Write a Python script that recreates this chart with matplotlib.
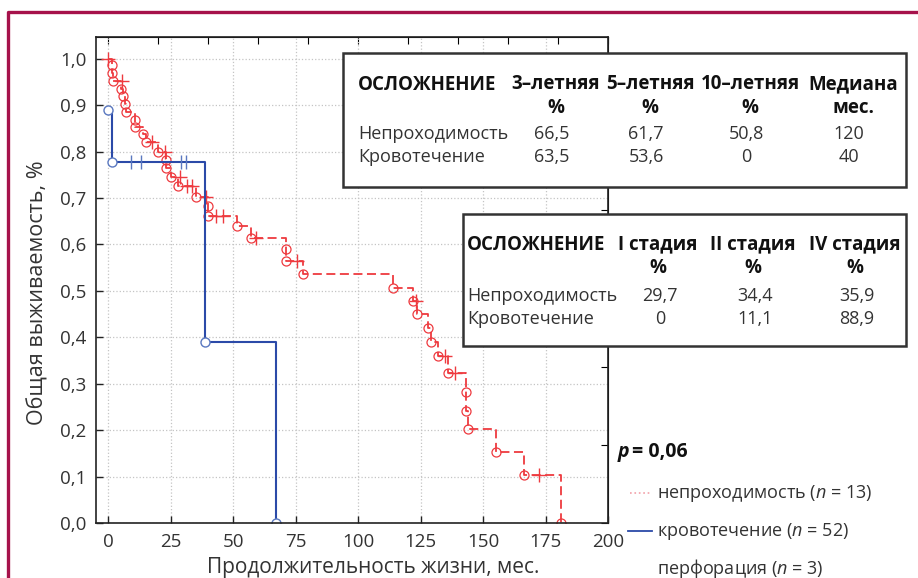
import matplotlib
matplotlib.use("Agg")
import matplotlib.pyplot as plt
import numpy as np
from matplotlib.lines import Line2D
from matplotlib.patches import Rectangle
from matplotlib.ticker import FuncFormatter

plt.rcParams["font.family"] = ["Open Sans", "DejaVu Sans"]
plt.rcParams["mathtext.fontset"] = "custom"
plt.rcParams["mathtext.it"] = "Open Sans:italic"
plt.rcParams["mathtext.rm"] = "Open Sans"

# Kaplan-Meier data
# red curve: event times (months) and survival after each event
red_times = [1.5, 1.5, 2, 5, 6, 6.5, 7, 10.5, 10.5, 14, 15, 20, 23, 23, 25, 28,
             35, 40, 40, 51.5, 57, 71, 71, 78, 114, 122, 123.5, 128, 129, 132,
             136, 143, 143, 144, 155, 166.5, 181]
red_surv = [0.986, 0.970, 0.952, 0.935, 0.920, 0.902, 0.886, 0.868, 0.853, 0.837,
            0.820, 0.800, 0.782, 0.764, 0.745, 0.726, 0.703, 0.683, 0.662, 0.639,
            0.614, 0.590, 0.565, 0.536, 0.506, 0.478, 0.450, 0.420, 0.389, 0.360,
            0.323, 0.282, 0.241, 0.203, 0.152, 0.103, 0.0]
red_cens_t = [0, 5.5, 17.5, 22.5, 28.5, 31.5, 33.5, 39, 43, 46, 59, 75.5, 123,
              134.8, 138.8, 172.5]
red_cens_s = [1.0, 0.952, 0.820, 0.800, 0.745, 0.726, 0.726, 0.703, 0.662, 0.662,
              0.614, 0.565, 0.478, 0.360, 0.323, 0.103]

# blue curve
blue_times = [0, 1.5, 38.5, 67]
blue_surv = [0.889, 0.778, 0.389, 0.0]
blue_cens_t = [9, 13, 29, 31]
blue_cens_s = [0.778, 0.778, 0.778, 0.778]

# tables
t1_header = ["ОСЛОЖНЕНИЕ", "3–летняя\n%", "5–летняя\n%", "10–летняя\n%", "Медиана\nмес."]
t1_rows = ["Непроходимость", "Кровотечение"]
t1_vals = [["66,5", "61,7", "50,8", "120"], ["63,5", "53,6", "0", "40"]]
t2_header = ["ОСЛОЖНЕНИЕ", "I стадия\n%", "II стадия\n%", "IV стадия\n%"]
t2_rows = ["Непроходимость", "Кровотечение"]
t2_vals = [["29,7", "34,4", "35,9"], ["0", "11,1", "88,9"]]

legend_labels = [r"непроходимость ($n$ = 13)", r"кровотечение ($n$ = 52)",
                 r"перфорация ($n$ = 3)"]

W, H = 918, 578
RED = "#ee3a3f"
BLUE = "#2b4aa8"
TXT = "#333333"


def fx(px):
    return px / W


def fy(py):
    return 1 - py / H


fig = plt.figure(figsize=(W / 100, H / 100), dpi=100)
ax = fig.add_axes([fx(96), fy(523), (608 - 96) / W, (523 - 37) / H])
ax.set_xlim(-5, 200)
ax.set_ylim(0, 1.047)

ax.grid(True, color="#c4c4c4", linestyle=":", linewidth=0.9)
ax.set_axisbelow(True)
ax.set_xticks(np.arange(0, 201, 25))
ax.set_yticks(np.arange(0, 1.01, 0.1))
ax.yaxis.set_major_formatter(FuncFormatter(lambda v, p: f"{v:.1f}".replace(".", ",")))
ax.tick_params(direction="in", length=5, width=1, labelsize=13.5, colors="#222222",
               labelcolor=TXT, pad=7)
for s in ax.spines.values():
    s.set_color("#222222")
    s.set_linewidth(1.2)

top = ax.secondary_xaxis("top")
top.set_xticks(np.arange(0, 201, 20))
top.tick_params(direction="in", length=5, labeltop=False)
right = ax.secondary_yaxis("right")
right.set_yticks(np.arange(0, 1.05, 0.1685))
right.tick_params(direction="in", length=5, labelright=False)

ax.set_xlabel("Продолжительность жизни, мес.", fontsize=15, color=TXT)
ax.set_ylabel("Общая выживаемость, %", fontsize=15.5, color=TXT)
ax.xaxis.set_label_coords(0.542, -0.07)
ax.yaxis.set_label_coords(-0.092, 0.474)

# red curve
ax.step([0] + red_times, [1.0] + red_surv, where="post", color=RED, lw=1.3,
        linestyle=(0, (5, 2.5)))
ax.plot(red_times, red_surv, "o", mfc="none", mec=RED, ms=6.5, mew=0.9)
ax.plot(red_cens_t, red_cens_s, "+", color=RED, ms=10, mew=1)

# blue curve
ax.step(blue_times, blue_surv, where="post", color=BLUE, lw=1.5)
ax.plot(blue_times, blue_surv, "o", mfc="white", mec="#5a78c0", ms=6.5, mew=1)
ax.plot(blue_cens_t, blue_cens_s, "|", color="#5a78c0", ms=10, mew=1)

# table boxes
for (x0, y0, x1, y1) in [(343, 53, 906, 187), (463, 214, 906, 346)]:
    fig.add_artist(Rectangle((fx(x0), fy(y1)), fx(x1) - fx(x0), fy(y0) - fy(y1),
                             transform=fig.transFigure, facecolor="white",
                             edgecolor="#333333", lw=1.8, zorder=5))

fb = 13.5
fr = 13
# table 1
t1_cols = [556, 650, 750, 853]
fig.text(fx(358), fy(85), t1_header[0], fontsize=fb, weight="bold", color="#111111",
         va="center", zorder=6)
for c, h in zip(t1_cols, t1_header[1:]):
    fig.text(fx(c), fy(96), h, fontsize=fb, weight="bold", color="#111111",
             ha="center", va="center", linespacing=1.25, zorder=6)
for i, (r, vals) in enumerate(zip(t1_rows, t1_vals)):
    yy = fy(134 + 23 * i)
    fig.text(fx(358), yy, r, fontsize=fr, color=TXT, va="center", zorder=6)
    for c, v in zip(t1_cols, vals):
        fig.text(fx(c - 4), yy, v, fontsize=fr, color=TXT, ha="center", va="center",
                 zorder=6)

# table 2
t2_cols = [658, 753, 855]
fig.text(fx(467), fy(245), t2_header[0], fontsize=fb, weight="bold", color="#111111",
         va="center", zorder=6)
for c, h in zip(t2_cols, t2_header[1:]):
    fig.text(fx(c), fy(256), h, fontsize=fb, weight="bold", color="#111111",
             ha="center", va="center", linespacing=1.25, zorder=6)
for i, (r, vals) in enumerate(zip(t2_rows, t2_vals)):
    yy = fy(296 + 23 * i)
    fig.text(fx(467), yy, r, fontsize=fr, color=TXT, va="center", zorder=6)
    for c, v in zip(t2_cols, vals):
        fig.text(fx(c + 2), yy, v, fontsize=fr, color=TXT, ha="center", va="center",
                 zorder=6)

# p value and legend
fig.text(fx(618), fy(452), "p", fontsize=14, weight="bold", style="italic",
         color="#111111", va="center")
fig.text(fx(632), fy(452), "= 0,06", fontsize=14, weight="bold", color="#111111",
         va="center")
leg_y = [493, 531, 568]
fig.add_artist(Line2D([fx(630), fx(652)], [fy(493), fy(493)], color="#f2a0a8",
                      ls=":", lw=1.2, transform=fig.transFigure))
fig.add_artist(Line2D([fx(628), fx(652)], [fy(531), fy(531)], color=BLUE,
                      lw=1.3, transform=fig.transFigure))
for yy, lab in zip(leg_y, legend_labels):
    fig.text(fx(657), fy(yy), lab, fontsize=13, color=TXT, va="center")

# crimson frame
fig.add_artist(Line2D([fx(8), fx(8), 1], [0, fy(12), fy(12)], color="#a6124b",
                      lw=2.4, transform=fig.transFigure, solid_capstyle="butt"))

fig.savefig("out.png", dpi=100)
